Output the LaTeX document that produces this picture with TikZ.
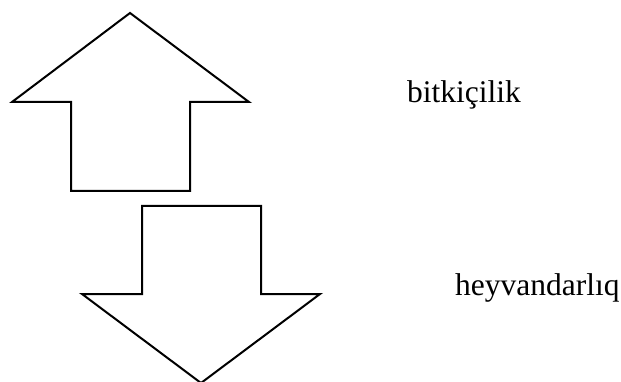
\documentclass[tikz,border=0pt]{standalone}
\usepackage{fontspec}
\setmainfont{Liberation Serif}
\begin{document}
\begin{tikzpicture}[x=1pt,y=-1pt,
  arrowshape/.style={draw=black,line width=2pt,line join=miter,fill=white},
  label/.style={font=\fontsize{31.5}{36}\selectfont,anchor=base west,inner sep=0pt}]
\useasboundingbox (0,0) rectangle (621,382);
\draw[arrowshape] (130,13) -- (249,102) -- (190,102) -- (190,191) -- (71,191) -- (71,102) -- (12,102) -- cycle;
\draw[arrowshape] (142,206) -- (261,206) -- (261,294) -- (320,294) -- (201,383) -- (82,294) -- (142,294) -- cycle;
\node[label] (t1) at (407,103) {bitkiçilik};
\node[label] (t2) at (455,295) {heyvandarlıq};
\end{tikzpicture}
\end{document}
